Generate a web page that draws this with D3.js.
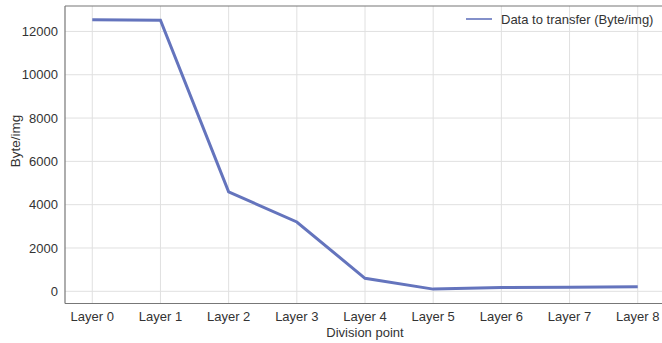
<!DOCTYPE html>
<html><head><meta charset="utf-8">
<script src="https://cdn.jsdelivr.net/npm/d3@7"></script>
<style>body{margin:0;background:#fff}svg{display:block}text{font-family:"Liberation Sans",Arial,sans-serif;fill:#333}</style>
</head><body>
<svg id="c" width="662" height="343"></svg>
<script>
const categories = ["Layer 0","Layer 1","Layer 2","Layer 3","Layer 4","Layer 5","Layer 6","Layer 7","Layer 8"];
const values = [12540, 12520, 4590, 3200, 598, 100, 170, 190, 210];
const yTicks = [0, 2000, 4000, 6000, 8000, 10000, 12000];
const seriesName = "Data to transfer (Byte/img)";

const svg = d3.select("#c");
const L = 65, R = 665, T = 6, B = 303.5;
const x = d3.scaleLinear().domain([-0.4, 8.4]).range([L, R]);
const y = d3.scaleLinear().domain([-564, 13174]).range([B, T]);

// grid
svg.append("g").selectAll("line").data(yTicks).join("line")
  .attr("x1", L).attr("x2", R).attr("y1", d => y(d)).attr("y2", d => y(d))
  .attr("stroke", "#e0e0e0").attr("stroke-width", 1);
svg.append("g").selectAll("line").data(categories).join("line")
  .attr("x1", (d,i) => x(i)).attr("x2", (d,i) => x(i)).attr("y1", T).attr("y2", B)
  .attr("stroke", "#e0e0e0").attr("stroke-width", 1);

// spines
svg.append("line").attr("x1", L).attr("x2", L).attr("y1", T).attr("y2", B).attr("stroke", "#777").attr("stroke-width", 1.2);
svg.append("line").attr("x1", L).attr("x2", R).attr("y1", B).attr("y2", B).attr("stroke", "#777").attr("stroke-width", 1.2);
svg.append("line").attr("x1", L).attr("x2", R).attr("y1", T).attr("y2", T).attr("stroke", "#777").attr("stroke-width", 1.2);

// y tick labels
svg.append("g").selectAll("text").data(yTicks).join("text")
  .attr("x", 58).attr("y", d => y(d)).attr("dy", "0.35em").attr("text-anchor", "end")
  .attr("font-size", 13).text(d => d);
// x tick labels
svg.append("g").selectAll("text").data(categories).join("text")
  .attr("x", (d,i) => x(i)).attr("y", 320.5).attr("text-anchor", "middle")
  .attr("font-size", 13).text(d => d);

// axis titles
svg.append("text").attr("x", x(4)).attr("y", 337).attr("text-anchor", "middle").attr("font-size", 13).text("Division point");
svg.append("text").attr("transform", "translate(20,141) rotate(-90)").attr("text-anchor", "middle").attr("font-size", 13.5).text("Byte/img");

// line
const line = d3.line().x((d,i) => x(i)).y(d => y(d));
svg.append("path").datum(values).attr("d", line).attr("fill", "none")
  .attr("stroke", "#6474bd").attr("stroke-width", 3).attr("stroke-linejoin", "miter");

// legend
svg.append("line").attr("x1", 466).attr("x2", 492).attr("y1", 19).attr("y2", 19).attr("stroke", "#6474bd").attr("stroke-width", 1.6);
svg.append("text").attr("x", 501).attr("y", 19).attr("dy", "0.35em").attr("font-size", 13).text(seriesName);
</script>
</body></html>
